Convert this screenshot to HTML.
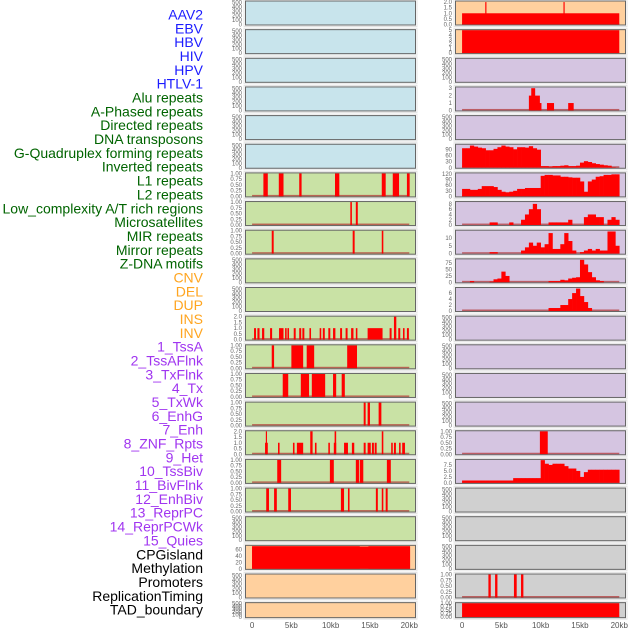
<!DOCTYPE html>
<html><head><meta charset="utf-8">
<style>
html,body{margin:0;padding:0;background:#fff;}
svg{display:block;}
.lbl{font-family:"Liberation Sans",sans-serif;font-size:14px;}
.tk{font-family:"Liberation Sans",sans-serif;font-size:6px;fill:#666;}
.xt{font-family:"Liberation Sans",sans-serif;font-size:8px;fill:#555;}
</style></head>
<body>
<svg id="chart" width="630" height="630" viewBox="0 0 630 630" xmlns="http://www.w3.org/2000/svg">
<g id="labels"></g>
<g id="panels"></g>
</svg>
<script>
// ---------- labels ----------
const labelNames = ["AAV2","EBV","HBV","HIV","HPV","HTLV-1","Alu repeats","A-Phased repeats","Directed repeats","DNA transposons","G-Quadruplex forming repeats","Inverted repeats","L1 repeats","L2 repeats","Low_complexity A/T rich regions","Microsatellites","MIR repeats","Mirror repeats","Z-DNA motifs","CNV","DEL","DUP","INS","INV","1_TssA","2_TssAFlnk","3_TxFlnk","4_Tx","5_TxWk","6_EnhG","7_Enh","8_ZNF_Rpts","9_Het","10_TssBiv","11_BivFlnk","12_EnhBiv","13_ReprPC","14_ReprPCWk","15_Quies","CPGisland","Methylation","Promoters","ReplicationTiming","TAD_boundary"];
const labelGroups = [6,13,5,15,5];
const groupColors = ["#1c1cff","#006400","#ffa520","#a035f0","#000000"];

// ---------- x axis ----------
const xTickKb = [0,5,10,15,20];
const xTickLabels = ["0","5kb","10kb","15kb","20kb"];

// ---------- y tick sets ----------
const ticksEmpty = [0,100,200,300,400,500];
const ticksEmptyLbl = ["0","100","200","300","400","500"];
const ticksBin = [0,0.25,0.5,0.75,1];
const ticksBinLbl = ["0.00","0.25","0.50","0.75","1.00"];
const ticks2 = [0,0.5,1,1.5,2];
const ticks2Lbl = ["0.0","0.5","1.0","1.5","2.0"];

// ---------- left column data: [startKb, endKb, value] ----------
const leftL1 = [[1.44,2.0,1],[3.4,4.0,1],[6.0,6.3,1],[10.55,11.1,1],[16.5,17.0,1],[17.9,18.7,1],[19.7,20.05,1]];
const leftLowCx = [[12.5,12.7,1],[13.2,13.45,1]];
const leftMIR = [[2.5,2.75,1],[12.8,13.05,1],[16.5,16.7,1]];
const leftINS = [[0.25,0.5,1],[0.68,0.95,1],[1.27,1.55,1],[2.29,2.55,1],[3.43,4.0,1],[4.2,4.4,1],[4.5,4.7,1],[5.3,5.55,1],[6.0,6.25,1],[6.4,6.65,1],[7.3,7.5,1],[8.6,8.8,1],[9.0,9.25,1],[9.7,9.95,1],[10.3,10.6,1],[11.2,11.45,1],[11.9,12.15,1],[12.6,12.9,1],[13.2,13.4,1],[14.7,16.6,1],[17.5,17.75,1],[18.05,18.35,2],[18.6,18.85,1],[19.2,19.4,1],[19.7,19.95,1]];
const leftTssA = [[2.5,2.8,1],[5.0,6.5,1],[6.95,7.9,1],[12.1,13.35,1]];
const leftTssAFlnk = [[3.9,4.6,1],[6.2,7.25,1],[7.6,9.3,1],[10.3,10.7,1],[11.4,11.8,1]];
const leftTxFlnk = [[14.2,14.45,1],[14.7,15.0,1],[16.1,16.45,1]];
const leftZNF = [[1.65,2.0,1],[1.75,1.9,2],[3.3,3.5,1],[5.2,5.4,1],[5.7,6.5,1],[7.4,7.7,2],[8.0,8.2,1],[9.7,9.9,1],[10.4,10.7,1],[10.5,10.7,2],[11.7,12.2,1],[12.7,13.0,1],[14.2,14.45,1],[14.7,15.1,1],[15.25,15.5,1],[15.6,15.85,1],[16.5,16.7,2],[17.7,17.9,1],[18.05,18.3,1],[18.7,18.9,1],[19.1,19.45,1]];
const leftTssBiv = [[3.2,3.7,1],[9.9,10.4,1],[13.2,13.6,1],[13.7,14.15,1],[17.15,17.65,1]];
const leftBivFlnk = [[1.8,2.15,1],[2.8,3.15,1],[4.6,4.95,1],[11.3,11.7,1],[12.2,12.4,1],[15.75,16.0,1],[16.5,16.7,1],[17.0,17.25,1]];
const leftCpG = [[0,20.1,70],[0,13.7,71],[14.8,20.1,71]];

// ---------- right column data ----------
const rightAAV2 = [[0,20,1],[2.95,3.1,2],[12.9,13.05,2]];
const rightEBV = [[0,20,5]];
const rightAlu = [[8.5,9.9,2],[8.8,9.3,3],[9.7,10.1,1],[10.8,11.7,1],[13.5,14.2,1]];
const rightZNF = [[9.9,10.9,1]];
const rightPromoters = [[3.35,3.65,1],[4.2,4.5,1],[6.6,6.95,1],[7.5,7.8,1]];
const rightTAD = [[0,20,1]];
// histogram bins, 0.5kb each from 0 to 20kb
const binWidthKb = 0.5;
const rightG4Bins = [95,95,108,103,98,95,85,85,92,100,108,103,100,90,100,100,98,105,95,88,8,8,6,8,8,10,12,8,8,10,25,32,28,22,18,15,12,10,3,1];
const rightL1Bins = [40,40,35,35,40,55,55,55,50,35,25,22,25,30,40,40,45,45,45,45,110,115,115,112,112,105,105,102,100,100,80,25,80,90,105,108,115,115,118,118];
const rightLowCxBins = [0,0,0,0,0,0,0,1,1,0,0,0,1,0,0,2,4,6,8,6,0,0,1,1,1,1,1,2,0,0,0,3,4,4,3,3,0,2,3,2];
const rightMIRBins = [0,0,0,0,0,0,0,1,1,0,0,0,0,0,0,2,4,7,5,7,4,6,13,3,3,6,13,8,2,0,1,2,3,2,3,2,2,14,14,5];
const rightZDNABins = [0,0,5,0,0,0,0,3,12,15,42,25,0,0,0,0,0,0,0,0,0,0,5,5,5,10,8,15,18,20,88,70,40,20,8,5,0,0,0,0];
const rightDELBins = [0,0,0,0,0,0,0,0,0,0,0,0,0,0,0,0,0,0,0,0,0,0,1,1,1,2,2,4,6,7.5,5,3,1,0,0,0,0,0,0,0];
const rightTssBivBins = [1,1,1,1,1,1,1,1,1,1,1,1,1,2,2,2,2,2,2,2,9.5,8,7.5,8,8,8,7,6,6,5,2.5,4.5,5.5,5.5,5.5,5.5,5.5,5.5,5.5,5.5];

const EMPTY = {ymax:520,ticks:ticksEmpty,tl:ticksEmptyLbl};
const BIN = {ymax:1,ticks:ticksBin,tl:ticksBinLbl};
const TWO = {ymax:2,ticks:ticks2,tl:ticks2Lbl};

const leftPanels = [
 {...EMPTY},{...EMPTY},{...EMPTY},{...EMPTY},{...EMPTY},{...EMPTY},
 {...BIN,iv:leftL1,name:"l1"},{...BIN,iv:leftLowCx,name:"lowcx"},{...BIN,iv:leftMIR,name:"mir"},
 {...EMPTY},{...EMPTY},
 {...TWO,iv:leftINS,name:"ins"},
 {...BIN,iv:leftTssA,name:"tssa"},{...BIN,iv:leftTssAFlnk,name:"tssaflnk"},{...BIN,iv:leftTxFlnk,name:"txflnk"},
 {...TWO,iv:leftZNF,name:"znf"},
 {...BIN,iv:leftTssBiv,name:"tssbiv"},{...BIN,iv:leftBivFlnk,name:"bivflnk"},
 {...EMPTY},
 {ymax:72,ticks:[0,20,40,60],tl:["0","20","40","60"],iv:leftCpG,name:"cpg"},
 {...EMPTY},{...EMPTY}
];
const rightPanels = [
 {ymax:2.05,ticks:ticks2,tl:ticks2Lbl,iv:rightAAV2,name:"aav2"},
 {ymax:5,ticks:[0,1,2,3,4,5],tl:["0","1","2","3","4","5"],iv:rightEBV,name:"ebv"},
 {...EMPTY},
 {ymax:3.1,ticks:[0,1,2,3],tl:["0","1","2","3"],iv:rightAlu,name:"alu"},
 {...EMPTY},
 {ymax:112,ticks:[0,30,60,90],tl:["0","30","60","90"],bins:rightG4Bins,name:"g4"},
 {ymax:123,ticks:[0,30,60,90,120],tl:["0","30","60","90","120"],bins:rightL1Bins,name:"l1"},
 {ymax:8.7,ticks:[0,2,4,6,8],tl:["0","2","4","6","8"],bins:rightLowCxBins,name:"lowcx"},
 {ymax:14.5,ticks:[0,5,10],tl:["0","5","10"],bins:rightMIRBins,name:"mir"},
 {ymax:90,ticks:[0,25,50,75],tl:["0","25","50","75"],bins:rightZDNABins,name:"zdna"},
 {ymax:7.7,ticks:[0,2,4,6],tl:["0","2","4","6"],bins:rightDELBins,name:"del"},
 {...EMPTY},{...EMPTY},{...EMPTY},{...EMPTY},
 {...BIN,iv:rightZNF,name:"znf"},
 {ymax:9.6,ticks:[0,2.5,5,7.5],tl:["0.0","2.5","5.0","7.5"],bins:rightTssBivBins,name:"tssbiv"},
 {...EMPTY},{...EMPTY},{...EMPTY},
 {...BIN,iv:rightPromoters,name:"promoters"},
 {...BIN,iv:rightTAD,name:"tad"}
];

const NS = "http://www.w3.org/2000/svg";
function mk(tag, attrs, parent){
  const e = document.createElementNS(NS, tag);
  for (const k in attrs) e.setAttribute(k, attrs[k]);
  parent.appendChild(e);
  return e;
}

// labels
const lg = document.getElementById("labels");
let idx = 0;
labelGroups.forEach((n, gi) => {
  for (let j = 0; j < n; j++) {
    const t = mk("text", {x:203, y:15 + idx*13.84 + 4.5, "text-anchor":"end", class:"lbl", fill:groupColors[gi]}, lg);
    
    
    t.textContent = labelNames[idx];
    idx++;
  }
});

const pg = document.getElementById("panels");
const PITCH = 28.65, PW = 171;
function bgColor(col, i){
  if (col === 0) return i < 6 ? "#c8e4ec" : (i < 19 ? "#c9e2a5" : "#ffd09e");
  return i < 2 ? "#ffd09e" : (i < 17 ? "#d5c5e1" : "#d0d0d0");
}
function drawPanel(col, i, p){
  const x0 = col === 0 ? 245 : 455;
  const top = 0.5 + i*PITCH;
  const h = i === 21 ? 16 : 25;
  const xs = kb => x0 + (kb + 0.9) * 7.86;
  const ys = v => top + h - 1 - (v / p.ymax) * (h - 2);
  const g = mk("g", {}, pg);
  
  
  mk("rect", {x:x0-1, y:top-1, width:PW+2, height:h+2, fill:"none", stroke:"#e4e4e4", "stroke-width":1}, g);
  const bg = mk("rect", {x:x0, y:top, width:PW, height:h, fill:bgColor(col,i)}, g);
  
  
  p.ticks.forEach((tv, k) => {
    const t = mk("text", {x:x0-3, y:ys(tv)+2, "text-anchor":"end", class:"tk"}, g);
    
    
    t.textContent = p.tl[k];
  });
  const hasData = p.iv || p.bins;
  if (hasData) {
    mk("rect", {x:xs(0), y:ys(0)-1.5, width:xs(20)-xs(0), height:1.5, fill:"#b03030", opacity:0.7}, g);
  }
  if (p.iv) {
    p.iv.forEach(d => {
      const r = mk("rect", {x:xs(d[0]), y:ys(d[2]), width:Math.max(0.8, xs(d[1])-xs(d[0])), height:ys(0)-ys(d[2]), fill:"#ff0000"}, g);
      
      
    });
  }
  if (p.bins) {
    p.bins.forEach((v, b) => {
      if (v <= 0) return;
      const a = b * binWidthKb;
      const r = mk("rect", {x:xs(a), y:ys(v), width:xs(a+binWidthKb)-xs(a)+0.3, height:ys(0)-ys(v), fill:"#ff0000"}, g);
      
      
    });
  }
  mk("rect", {x:x0+0.5, y:top+0.5, width:PW-1, height:h-1, fill:"none", stroke:"#666", "stroke-width":1}, g);
}
leftPanels.forEach((p, i) => drawPanel(0, i, p));
rightPanels.forEach((p, i) => drawPanel(1, i, p));

// x axes
[245, 455].forEach((x0, c) => {
  const ax = mk("g", {}, pg);
  
  
  xTickKb.forEach((kb, k) => {
    const t = mk("text", {x:x0 + (kb + 0.9)*7.86, y:628, "text-anchor":"middle", class:"xt"}, ax);
    
    
    t.textContent = xTickLabels[k];
  });
});
</script>
</body></html>
